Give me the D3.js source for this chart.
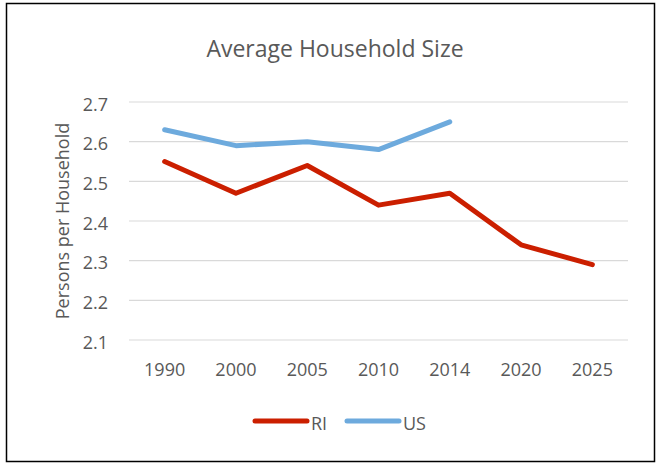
<!DOCTYPE html>
<html>
<head>
<meta charset="utf-8">
<script src="https://cdn.jsdelivr.net/npm/d3@7"></script>
<style>
  body { margin: 0; background: #fff; }
  svg { display: block; font-family: "Open Sans", Lato, sans-serif; }
</style>
</head>
<body>
<div id="chart"></div>
<script>
// data
const years = ["1990", "2000", "2005", "2010", "2014", "2020", "2025"]
const riValues = [2.55, 2.47, 2.54, 2.44, 2.47, 2.34, 2.29]
const usValues = [2.63, 2.59, 2.60, 2.58, 2.65]
const yTicks = [2.1, 2.2, 2.3, 2.4, 2.5, 2.6, 2.7]

const W = 657, H = 466
const margin = { top: 102, right: 29, bottom: 126, left: 129 }
const width = W - margin.left - margin.right
const height = H - margin.top - margin.bottom

const series = [
  { name: "RI", color: "#CB1F00", values: riValues },
  { name: "US", color: "#6DAADD", values: usValues }
]

const svg = d3.select("#chart")
  .append("svg")
  .attr("width", W)
  .attr("height", H)

// outer frame
svg.append("rect")
  .attr("x", 6.5).attr("y", 3.5)
  .attr("width", 648).attr("height", 458)
  .attr("fill", "#fff")
  .attr("stroke", "#000")
  .attr("stroke-width", 1.5)

const g = svg.append("g")
  .attr("transform", `translate(${margin.left},${margin.top})`)

const x = d3.scaleBand().domain(years).range([0, width])
const y = d3.scaleLinear().domain([2.1, 2.7]).range([height, 0])

// gridlines
g.append("g")
  .selectAll("line")
  .data(yTicks)
  .join("line")
  .attr("x1", 0).attr("x2", width)
  .attr("y1", d => y(d)).attr("y2", d => y(d))
  .attr("stroke", "#d9d9d9")
  .attr("stroke-width", 1.2)

// y axis labels
const yAxis = g.append("g")
  .call(d3.axisLeft(y).tickValues(yTicks).tickFormat(d3.format(".1f")).tickSize(0).tickPadding(21))
yAxis.select(".domain").remove()
yAxis.selectAll("text")
  .attr("dy", "0.45em")
  .attr("font-size", 18).attr("fill", "#595959").attr("font-family", "'Open Sans', sans-serif")

// x axis labels
const xAxis = g.append("g")
  .attr("transform", `translate(0,${height})`)
  .call(d3.axisBottom(x).tickSize(0).tickPadding(23))
xAxis.select(".domain").remove()
xAxis.selectAll("text").attr("font-size", 18).attr("fill", "#595959").attr("font-family", "'Open Sans', sans-serif")

// lines
const line = d3.line()
  .x((d, i) => x(years[i]) + x.bandwidth() / 2)
  .y(d => y(d))

g.selectAll(".series")
  .data(series)
  .join("path")
  .attr("class", "series")
  .attr("d", d => line(d.values))
  .attr("fill", "none")
  .attr("stroke", d => d.color)
  .attr("stroke-width", 5)
  .attr("stroke-linejoin", "round")
  .attr("stroke-linecap", "round")

// title
svg.append("text")
  .attr("x", 335).attr("y", 57)
  .attr("text-anchor", "middle")
  .attr("font-size", 23)
  .attr("fill", "#595959")
  .text("Average Household Size")

// y axis title
svg.append("text")
  .attr("transform", `translate(69,${margin.top + height / 2}) rotate(-90)`)
  .attr("text-anchor", "middle")
  .attr("font-size", 18)
  .attr("fill", "#595959")
  .text("Persons per Household")

// legend
const legend = svg.append("g").attr("transform", "translate(255,421)")
const items = legend.selectAll("g")
  .data(series)
  .join("g")
  .attr("transform", (d, i) => `translate(${i * 92},0)`)
items.append("line")
  .attr("x1", 0).attr("x2", 52)
  .attr("stroke", d => d.color)
  .attr("stroke-width", 5)
  .attr("stroke-linecap", "round")
items.append("text")
  .attr("x", 56).attr("y", 9)
  .attr("font-size", 18)
  .attr("fill", "#595959")
  .text(d => d.name)
</script>
</body>
</html>
